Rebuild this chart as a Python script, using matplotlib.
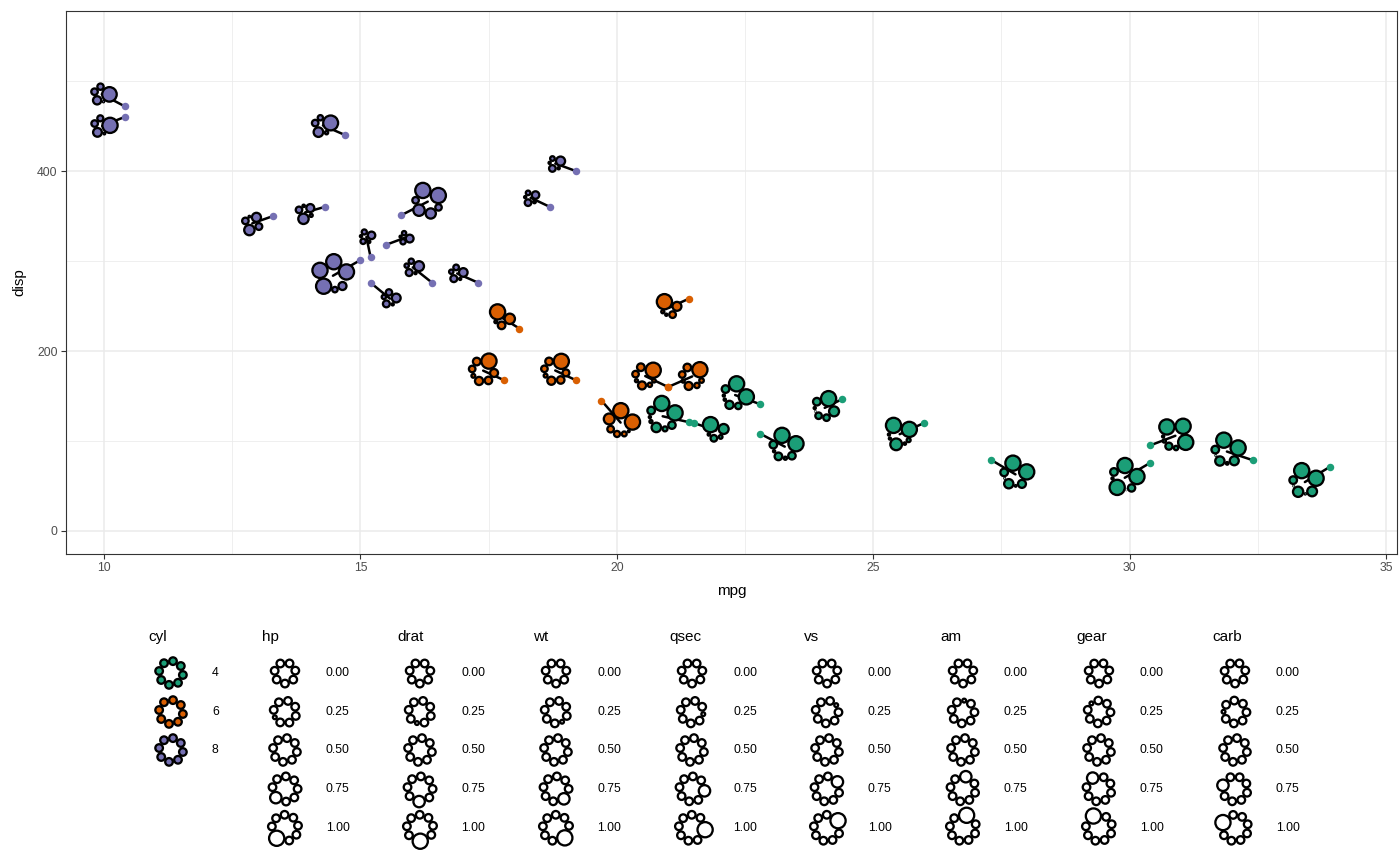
import numpy as np
import matplotlib
matplotlib.use("Agg")
import matplotlib.pyplot as plt

plt.rcParams['font.family'] = ['Liberation Sans', 'DejaVu Sans']

# ---------------- data (mtcars) ----------------
cars = ["Mazda RX4", "Mazda RX4 Wag", "Datsun 710", "Hornet 4 Drive", "Hornet Sportabout",
        "Valiant", "Duster 360", "Merc 240D", "Merc 230", "Merc 280", "Merc 280C",
        "Merc 450SE", "Merc 450SL", "Merc 450SLC", "Cadillac Fleetwood",
        "Lincoln Continental", "Chrysler Imperial", "Fiat 128", "Honda Civic",
        "Toyota Corolla", "Toyota Corona", "Dodge Challenger", "AMC Javelin",
        "Camaro Z28", "Pontiac Firebird", "Fiat X1-9", "Porsche 914-2", "Lotus Europa",
        "Ford Pantera L", "Ferrari Dino", "Maserati Bora", "Volvo 142E"]
mpg = [21.0, 21.0, 22.8, 21.4, 18.7, 18.1, 14.3, 24.4, 22.8, 19.2, 17.8, 16.4, 17.3, 15.2,
       10.4, 10.4, 14.7, 32.4, 30.4, 33.9, 21.5, 15.5, 15.2, 13.3, 19.2, 27.3, 26.0, 30.4,
       15.8, 19.7, 15.0, 21.4]
cyl = [6, 6, 4, 6, 8, 6, 8, 4, 4, 6, 6, 8, 8, 8, 8, 8, 8, 4, 4, 4, 4, 8, 8, 8, 8, 4, 4, 4,
       8, 6, 8, 4]
disp = [160.0, 160.0, 108.0, 258.0, 360.0, 225.0, 360.0, 146.7, 140.8, 167.6, 167.6, 275.8,
        275.8, 275.8, 472.0, 460.0, 440.0, 78.7, 75.7, 71.1, 120.1, 318.0, 304.0, 350.0,
        400.0, 79.0, 120.3, 95.1, 351.0, 145.0, 301.0, 121.0]
hp = [110, 110, 93, 110, 175, 105, 245, 62, 95, 123, 123, 180, 180, 180, 205, 215, 230, 66,
      52, 65, 97, 150, 150, 245, 175, 66, 91, 113, 264, 175, 335, 109]
drat = [3.90, 3.90, 3.85, 3.08, 3.15, 2.76, 3.21, 3.69, 3.92, 3.92, 3.92, 3.07, 3.07, 3.07,
        2.93, 3.00, 3.23, 4.08, 4.93, 4.22, 3.70, 2.76, 3.15, 3.73, 3.08, 4.08, 4.43, 3.77,
        4.22, 3.62, 3.54, 4.11]
wt = [2.620, 2.875, 2.320, 3.215, 3.440, 3.460, 3.570, 3.190, 3.150, 3.440, 3.440, 4.070,
      3.730, 3.780, 5.250, 5.424, 5.345, 2.200, 1.615, 1.835, 2.465, 3.520, 3.435, 3.840,
      3.845, 1.935, 2.140, 1.513, 3.170, 2.770, 3.570, 2.780]
qsec = [16.46, 17.02, 18.61, 19.44, 17.02, 20.22, 15.84, 20.00, 22.90, 18.30, 18.90, 17.40,
        17.60, 18.00, 17.98, 17.82, 17.42, 19.47, 18.52, 19.90, 20.01, 16.87, 17.30, 15.41,
        17.05, 18.90, 16.70, 16.90, 14.50, 15.50, 14.60, 18.60]
vs = [0, 0, 1, 1, 0, 1, 0, 1, 1, 1, 1, 0, 0, 0, 0, 0, 0, 1, 1, 1, 1, 0, 0, 0, 0, 1, 0, 1,
      0, 0, 0, 1]
am = [1, 1, 1, 0, 0, 0, 0, 0, 0, 0, 0, 0, 0, 0, 0, 0, 0, 1, 1, 1, 0, 0, 0, 0, 0, 1, 1, 1,
      1, 1, 1, 1]
gear = [4, 4, 4, 3, 3, 3, 3, 4, 4, 4, 4, 3, 3, 3, 3, 3, 3, 4, 4, 4, 3, 3, 3, 3, 3, 4, 5, 5,
        5, 5, 5, 4]
carb = [4, 4, 1, 1, 2, 1, 4, 2, 2, 4, 4, 3, 3, 3, 4, 4, 4, 1, 2, 1, 1, 2, 2, 4, 2, 1, 2, 2,
        4, 6, 8, 2]

# repelled flower positions (data units)
flower_mpg = [20.58, 21.49, 23.31, 21.02, 18.34, 17.77, 13.92, 24.08, 22.36, 18.80, 17.40,
              16.05, 16.91, 15.60, 10.00, 10.01, 14.31, 31.93, 29.95, 33.45, 21.93, 15.90,
              15.14, 12.89, 18.83, 27.81, 25.55, 30.91, 16.34, 20.10, 14.47, 20.94]
flower_disp = [172.2, 172.2, 96.7, 250.0, 369.7, 238.1, 352.2, 138.9, 153.7, 179.7, 179.7,
               293.0, 286.3, 258.6, 485.6, 450.0, 450.0, 91.0, 60.6, 56.7, 113.0, 325.9,
               327.0, 341.1, 407.8, 65.6, 107.8, 107.3, 367.0, 123.3, 285.6, 130.0]

petal_vars = ["hp", "drat", "wt", "qsec", "vs", "am", "gear", "carb"]
petal_data = [hp, drat, wt, qsec, vs, am, gear, carb]
cyl_levels = [4, 6, 8]
cyl_colors = ["#1B9E77", "#D95F02", "#7570B3"]
legend_values = [0.00, 0.25, 0.50, 0.75, 1.00]
legend_labels = ["0.00", "0.25", "0.50", "0.75", "1.00"]

# ---------------- helpers ----------------
W, H = 1400, 866
PX2PT = 72.0 / 100.0
RMAX = 7.6          # petal radius (px) at scaled value 1
STROKE = 2.3        # petal outline width (px)
START = np.deg2rad(193)


def rescale(v):
    v = np.asarray(v, float)
    return (v - v.min()) / (v.max() - v.min())


def layout(vals):
    r = np.asarray(vals, float) * RMAX
    re = np.where(r > 0.05, r + STROKE / 2, 0.0)
    c = re + np.roll(re, -1)

    def total(d):
        return np.sum(2 * np.arcsin(np.clip(c / (2 * d), 0, 1)))

    lo = max(c.max() / 2, 1e-6)
    if total(lo) <= 2 * np.pi:
        d = lo
    else:
        a, b = lo, 500.0
        for _ in range(80):
            m = 0.5 * (a + b)
            if total(m) > 2 * np.pi:
                a = m
            else:
                b = m
        d = 0.5 * (a + b)
    gaps = 2 * np.arcsin(np.clip(c / (2 * d), 0, 1))
    th0 = START + np.arcsin(min(re[0] / d, 1.0))
    th = th0 + np.concatenate([[0], np.cumsum(gaps[:-1])])
    d *= 0.93
    return d * np.cos(th), d * np.sin(th), r


def draw_flower(axx, cx, cy, vals, fill, z, center_bbox=False):
    dx, dy, r = layout(vals)
    vis = r > 0.05
    if center_bbox:
        x0 = np.min(dx[vis] - r[vis]); x1 = np.max(dx[vis] + r[vis])
        y0 = np.min(dy[vis] - r[vis]); y1 = np.max(dy[vis] + r[vis])
        cx = cx - 0.5 * (x0 + x1)
        cy = cy - 0.5 * (y0 + y1)
    pts = np.column_stack([cx + dx[vis], cy + dy[vis]])
    dat = axx.transData.inverted().transform(pts)
    axx.scatter(dat[:, 0], dat[:, 1], s=(2 * r[vis] * PX2PT) ** 2, c=fill,
                edgecolors="black", linewidths=STROKE * PX2PT, zorder=z, clip_on=False)
    return cx, cy


# ---------------- figure ----------------
fig = plt.figure(figsize=(W / 100, H / 100), dpi=100)
ax = fig.add_axes([66 / W, 1 - 554 / H, (1397 - 66) / W, (554 - 11) / H])
ax.set_xlim(9.259, 35.214)
ax.set_ylim(-25.56, 577.8)
ax.set_xticks([10, 15, 20, 25, 30, 35])
ax.set_yticks([0, 200, 400])
ax.set_xticks([12.5, 17.5, 22.5, 27.5, 32.5], minor=True)
ax.set_yticks([100, 300, 500], minor=True)
ax.grid(which="major", color="#EBEBEB", linewidth=1.1, zorder=0)
ax.grid(which="minor", color="#EBEBEB", linewidth=0.55, zorder=0)
ax.set_axisbelow(True)
ax.tick_params(which="minor", length=0)
ax.tick_params(which="major", length=3.5, width=0.8, color="#333333",
               labelsize=8.8, labelcolor="#4D4D4D", pad=2.5)
for s in ax.spines.values():
    s.set_color("#333333")
    s.set_linewidth(0.8)
ax.set_xlabel("mpg", fontsize=11, labelpad=7)
ax.set_ylabel("disp", fontsize=11, labelpad=8)

scaled = [rescale(v) for v in petal_data]
col_of = dict(zip(cyl_levels, cyl_colors))

z = 5
for i in range(len(cars)):
    vals = [s[i] for s in scaled]
    fx, fy = ax.transData.transform((flower_mpg[i], flower_disp[i]))
    px, py = ax.transData.transform((mpg[i], disp[i]))
    ccx, ccy = draw_flower(ax, fx, fy, vals, col_of[cyl[i]], z + 2, center_bbox=True)
    line = ax.transData.inverted().transform([[px, py], [ccx, ccy]])
    ax.plot(line[:, 0], line[:, 1], color="black", linewidth=1.8, zorder=z,
            solid_capstyle="round")
    ax.scatter([mpg[i]], [disp[i]], s=(7.5 * PX2PT) ** 2, color=col_of[cyl[i]],
               linewidths=0, zorder=z + 1)
    z += 3

# ---------------- legend ----------------
lax = fig.add_axes([0, 0, 1, 1], facecolor="none")
lax.set_xlim(0, W)
lax.set_ylim(0, H)
lax.axis("off")

title_x = [148, 262, 397, 533, 669, 804, 940, 1076, 1212]
row_y = [673, 712, 750, 789, 828]
title_y = 637

lax.text(title_x[0], H - title_y, "cyl", fontsize=11, ha="left", va="center")
for k, (lev, colr) in enumerate(zip(cyl_levels, cyl_colors)):
    cy = H - row_y[k]
    draw_flower(lax, title_x[0] + 23, cy, [0.5] * 8, colr, 10)
    lax.text(title_x[0] + 64, cy, str(lev), fontsize=8.8, ha="left", va="center")

for j, name in enumerate(petal_vars):
    tx = title_x[j + 1]
    lax.text(tx, H - title_y, name, fontsize=11, ha="left", va="center")
    for k, (lv, lab) in enumerate(zip(legend_values, legend_labels)):
        vals = [0.5] * 8
        vals[j] = lv
        cy = H - row_y[k]
        draw_flower(lax, tx + 23, cy, vals, "white", 10)
        lax.text(tx + 64, cy, lab, fontsize=8.8, ha="left", va="center")

fig.savefig("out.png", dpi=100)
